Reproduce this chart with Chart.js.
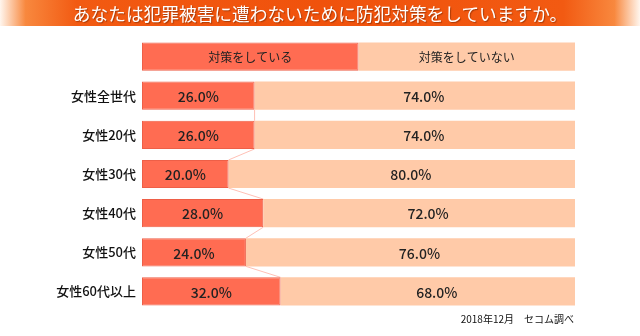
<!DOCTYPE html>
<html>
<head>
<meta charset="utf-8">
<script src="https://cdn.jsdelivr.net/npm/chart.js@4.4.0/dist/chart.umd.min.js"></script>
<style>
  body { margin: 0; background: #fff; font-family: "Noto Sans CJK JP", sans-serif; }
  #wrap { position: relative; width: 640px; height: 336px; }
  #title {
    position: absolute; left: 0; top: 0; width: 640px; height: 26px;
    background: linear-gradient(to right, #fff6ee 0%, #f8883e 4%, #f25a12 12%, #f0520c 50%, #f25a12 88%, #f8883e 96%, #fff6ee 100%);
    color: #fff; font-size: 17.7px; line-height: 26px; text-align: center;
    text-shadow: 1px 1px 1px rgba(120,40,0,0.6);
  }
  #note { position: absolute; right: 66px; top: 311px; font-size: 10px; color: #111; }
  canvas { position: absolute; left: 0; top: 0; }
</style>
</head>
<body>
<div id="wrap">
  <canvas id="chart" width="640" height="336"></canvas>
  <div id="title">あなたは犯罪被害に遭わないために防犯対策をしていますか。</div>
  <div id="note">2018年12月　セコム調べ</div>
</div>
<script>
// data
const seriesNames = ['対策をしている', '対策をしていない'];
const categories = ['女性全世代', '女性20代', '女性30代', '女性40代', '女性50代', '女性60代以上'];
const doing = [26.0, 26.0, 20.0, 28.0, 24.0, 32.0];
const notDoing = [74.0, 74.0, 80.0, 72.0, 76.0, 68.0];
const headerSplit = [50, 50];

const RED = '#ff6c52';
const PEACH = '#ffcaa8';

// first row is the header bar carrying the series names
const labels = [''].concat(categories);

const segmentLabels = {
    id: 'segmentLabels',
    afterDatasetsDraw(chart) {
        const ctx = chart.ctx;
        ctx.save();
        ctx.textAlign = 'center';
        ctx.textBaseline = 'middle';
        chart.data.datasets.forEach((ds, di) => {
            chart.getDatasetMeta(di).data.forEach((bar, i) => {
                const left = Math.min(bar.x, bar.base);
                const right = Math.max(bar.x, bar.base);
                const cx = (left + right) / 2;
                ctx.fillStyle = '#222';
                if (i === 0) {
                    ctx.font = '12px "Noto Sans CJK JP"';
                    ctx.fillText(seriesNames[di], cx, bar.y + 1);
                } else {
                    // labels on the right segment sit a little right of centre
                    ctx.font = '500 14px "Noto Sans CJK JP"';
                    ctx.fillText(ds.data[i].toFixed(1) + '%', cx + (di === 1 ? 9 : 0), bar.y + 1);
                }
            });
        });
        ctx.restore();
    }
};

// excel-like series lines between the red segments
const seriesLines = {
    id: 'seriesLines',
    beforeDatasetsDraw(chart) {
        const ctx = chart.ctx;
        const bars = chart.getDatasetMeta(0).data;
        ctx.save();
        ctx.strokeStyle = 'rgba(255,140,120,0.55)';
        ctx.lineWidth = 1;
        for (let i = 1; i < bars.length - 1; i++) {
            const a = bars[i], b = bars[i + 1];
            ctx.beginPath();
            ctx.moveTo(a.x, a.y + a.height / 2);
            ctx.lineTo(b.x, b.y - b.height / 2);
            ctx.stroke();
        }
        ctx.restore();
    }
};

new Chart(document.getElementById('chart'), {
    type: 'bar',
    data: {
        labels: labels,
        datasets: [
            {
                label: seriesNames[0],
                data: [headerSplit[0]].concat(doing),
                backgroundColor: RED,
                borderColor: '#ee5f47',
                borderWidth: 1,
                borderSkipped: false
            },
            {
                label: seriesNames[1],
                data: [headerSplit[1]].concat(notDoing),
                backgroundColor: PEACH,
                borderWidth: 0
            }
        ]
    },
    options: {
        indexAxis: 'y',
        responsive: false,
        animation: false,
        layout: { padding: { top: 37, bottom: 25, right: 65, left: 0 } },
        datasets: { bar: { categoryPercentage: 1, barPercentage: 0.72 } },
        plugins: {
            legend: { display: false },
            tooltip: { enabled: false },
            title: { display: false }
        },
        scales: {
            x: { stacked: true, min: 0, max: 100, display: false },
            y: {
                stacked: true,
                grid: { display: false, drawTicks: false },
                border: { display: false },
                ticks: {
                    color: '#111',
                    padding: 6,
                    font: { size: 13, family: '"Noto Sans CJK JP"', weight: '500' }
                },
                afterFit(scale) { scale.width = 142; }
            }
        }
    },
    plugins: [seriesLines, segmentLabels]
});
</script>
</body>
</html>
